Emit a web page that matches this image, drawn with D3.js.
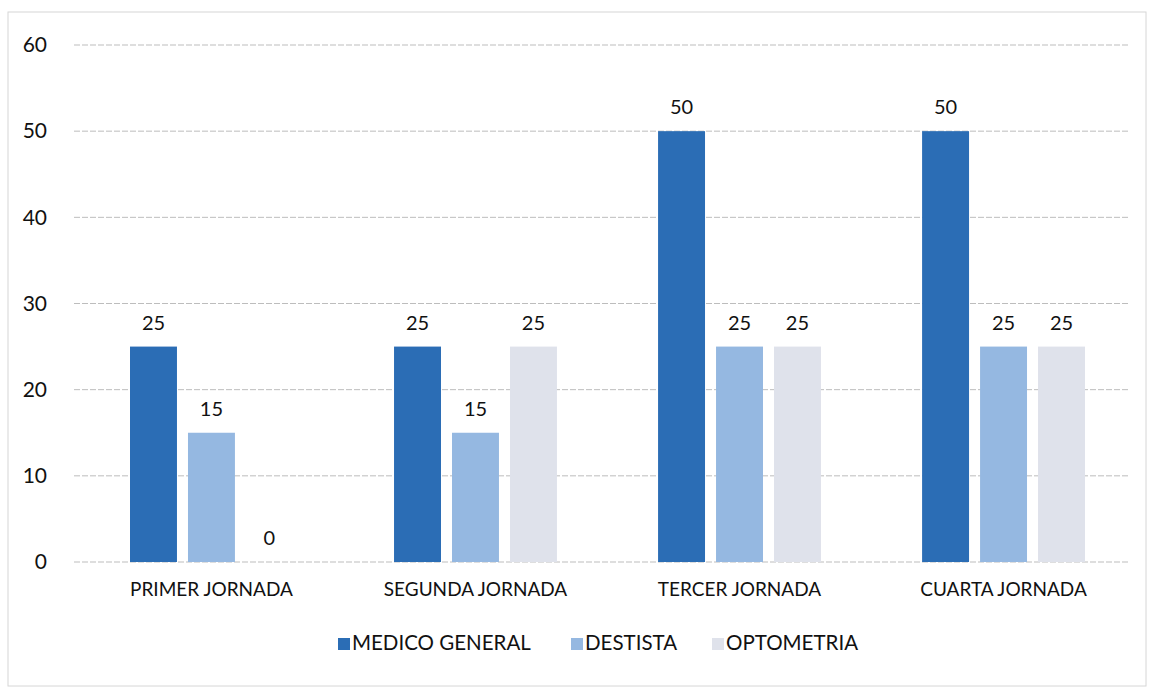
<!DOCTYPE html>
<html><head><meta charset="utf-8">
<script src="https://cdn.jsdelivr.net/npm/d3@7"></script>
<style>body{margin:0;background:#fff}svg{display:block}text{font-family:Lato,"Open Sans",sans-serif;fill:#111}</style>
</head><body><svg id="c" width="1152" height="692"></svg>
<script>
const categories = ["PRIMER JORNADA","SEGUNDA JORNADA","TERCER JORNADA","CUARTA JORNADA"];
const seriesNames = ["MEDICO GENERAL","DESTISTA","OPTOMETRIA"];
const medicoGeneral = [25,25,50,50];
const destista = [15,15,25,25];
const optometria = [0,25,25,25];
const yTicks = [0,10,20,30,40,50,60];
const colors = ["#2b6db5","#95b8e1","#dfe2eb"];

const values = [medicoGeneral, destista, optometria];
const svg = d3.select("#c");
const m = {l:74, r:1130, t:45, b:562};

svg.append("rect").attr("x",8).attr("y",12).attr("width",1138).attr("height",674)
  .attr("fill","none").attr("stroke","#d6d6d6").attr("stroke-width",1);

const x = d3.scaleBand().domain(categories).range([64,1151]).paddingInner(0.383).paddingOuter(0.25);
const xs = d3.scaleBand().domain(seriesNames).range([0,x.bandwidth()]).paddingInner(0.19);
const y = d3.scaleLinear().domain([0,60]).range([m.b,m.t]);

const grid = svg.append("g");
yTicks.forEach(t=>{
  grid.append("line").attr("x1",m.l).attr("x2",m.r).attr("y1",y(t)).attr("y2",y(t))
    .attr("stroke","#bdbdbd").attr("stroke-width",1).attr("stroke-dasharray","6,2");
});
const yAxis = svg.append("g").attr("transform",`translate(${m.l-27},0)`)
  .call(d3.axisLeft(y).tickValues(yTicks).tickSize(0).tickPadding(0));
yAxis.select(".domain").remove();
yAxis.selectAll("text").attr("font-size",21).style("font-family","Lato,sans-serif").attr("fill","#111");

const xAxis = svg.append("g").attr("transform",`translate(0,${m.b})`)
  .call(d3.axisBottom(x).tickSize(0).tickPadding(21));
xAxis.select(".domain").remove();
xAxis.selectAll("text").attr("font-size",19).attr("fill","#111").style("font-family","Lato,sans-serif");

categories.forEach((c,i)=>{
  const g = svg.append("g").attr("transform",`translate(${x(c)},0)`);
  seriesNames.forEach((s,j)=>{
    const v = values[j][i];
    g.append("rect").attr("x",xs(s)).attr("width",xs.bandwidth())
      .attr("y",y(v)).attr("height",y(0)-y(v)).attr("fill",colors[j]);
    g.append("text").attr("x",xs(s)+xs.bandwidth()/2).attr("y",y(v)-17)
      .attr("text-anchor","middle").attr("font-size",20).text(v);
  });
});

const legend = svg.append("g").attr("transform","translate(338,650)");
const lx = [0,233,374];
seriesNames.forEach((s,j)=>{
  legend.append("rect").attr("x",lx[j]).attr("y",-12).attr("width",12).attr("height",12).attr("fill",colors[j]);
  legend.append("text").attr("x",lx[j]+14).attr("y",0).attr("font-size",20.5).text(s);
});
</script></body></html>
